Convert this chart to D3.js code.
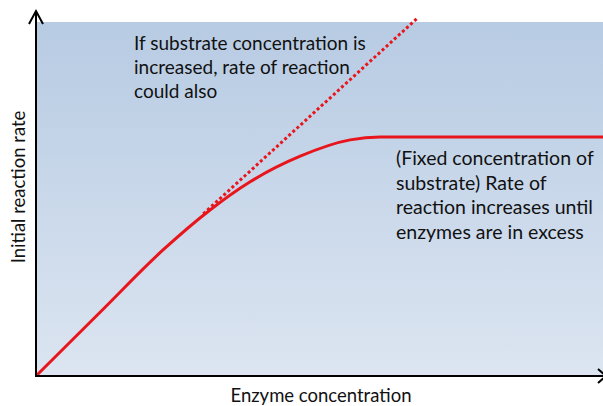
<!DOCTYPE html>
<html><head><meta charset="utf-8">
<script src="https://cdn.jsdelivr.net/npm/d3@7"></script>
<style>
html,body{margin:0;padding:0;background:#fff;}
svg{display:block;}
text{font-family:Lato,"Open Sans",sans-serif;fill:#111;}
</style></head>
<body>
<svg id="chart" width="603" height="406"></svg>
<script>
// Data (arbitrary units: enzyme concentration 0..10, rate 0..10)
const enzymeConc = [0, 1.13, 2.24, 3.07, 3.77, 4.66, 5.54, 6.07, 10];
const rateFixedSubstrate = [0, 1.80, 3.56, 4.69, 5.48, 6.21, 6.67, 6.75, 6.75];
const enzymeConcExtra = [2.95, 6.72];
const rateExtraSubstrate = [4.58, 10.1];
const annotationTop = ["If substrate concentration is", "increased, rate of reaction", "could also"];
const annotationRight = ["(Fixed concentration of", "substrate) Rate of", "reaction increases until", "enzymes are in excess"];
const xLabel = "Enzyme concentration";
const yLabel = "Initial reaction rate";

const svg = d3.select("#chart");
const pL = 36, pR = 603, pT = 22, pB = 376;
const x = d3.scaleLinear().domain([0, 10]).range([pL, pR]);
const y = d3.scaleLinear().domain([0, 10]).range([pB, pT]);

const defs = svg.append("defs");
const grad = defs.append("linearGradient").attr("id", "bg").attr("x1", 0).attr("y1", 0).attr("x2", 0).attr("y2", 1);
grad.append("stop").attr("offset", "0%").attr("stop-color", "#b7cbe3");
grad.append("stop").attr("offset", "100%").attr("stop-color", "#dce5f1");

svg.append("rect").attr("x", x(0)).attr("y", y(10)).attr("width", x(10) - x(0)).attr("height", y(0) - y(10)).attr("fill", "url(#bg)");

// lines
const line = d3.line().x(d => x(d[0])).y(d => y(d[1])).curve(d3.curveMonotoneX);
svg.append("path").datum(enzymeConc.map((v, i) => [v, rateFixedSubstrate[i]]))
  .attr("d", line).attr("fill", "none").attr("stroke", "#e8161c").attr("stroke-width", 3);
svg.append("path").datum(enzymeConcExtra.map((v, i) => [v, rateExtraSubstrate[i]]))
  .attr("d", d3.line().x(d => x(d[0])).y(d => y(d[1]))).attr("fill", "none")
  .attr("stroke", "#e8161c").attr("stroke-width", 3).attr("stroke-dasharray", "3,2.5");

// axes
const ax = svg.append("g").attr("stroke", "#000").attr("fill", "none").attr("stroke-width", 2);
ax.append("line").attr("x1", x(0)).attr("y1", y(0) + 1).attr("x2", x(0)).attr("y2", 11);
ax.append("path").attr("d", `M${x(0) - 7},${24} L${x(0)},${11} L${x(0) + 7},${24}`);
ax.append("line").attr("x1", x(0) - 1).attr("y1", y(0)).attr("x2", 603).attr("y2", y(0));
ax.append("path").attr("d", `M${598},${y(0) - 7} L${606},${y(0)} L${598},${y(0) + 7}`);

// labels
svg.append("text").attr("x", 321).attr("y", 402).attr("text-anchor", "middle")
  .attr("font-size", 18.5).text(xLabel);
svg.append("text").attr("transform", `translate(25,187) rotate(-90)`).attr("text-anchor", "middle")
  .attr("font-size", 18.5).text(yLabel);

const t1 = svg.append("text").attr("font-size", 19);
annotationTop.forEach((s, i) => t1.append("tspan").attr("x", 134).attr("y", 50 + i * 24).text(s));
const t2 = svg.append("text").attr("font-size", 19.5);
annotationRight.forEach((s, i) => t2.append("tspan").attr("x", 396).attr("y", 165 + i * 24.5).text(s));
</script>
</body></html>
